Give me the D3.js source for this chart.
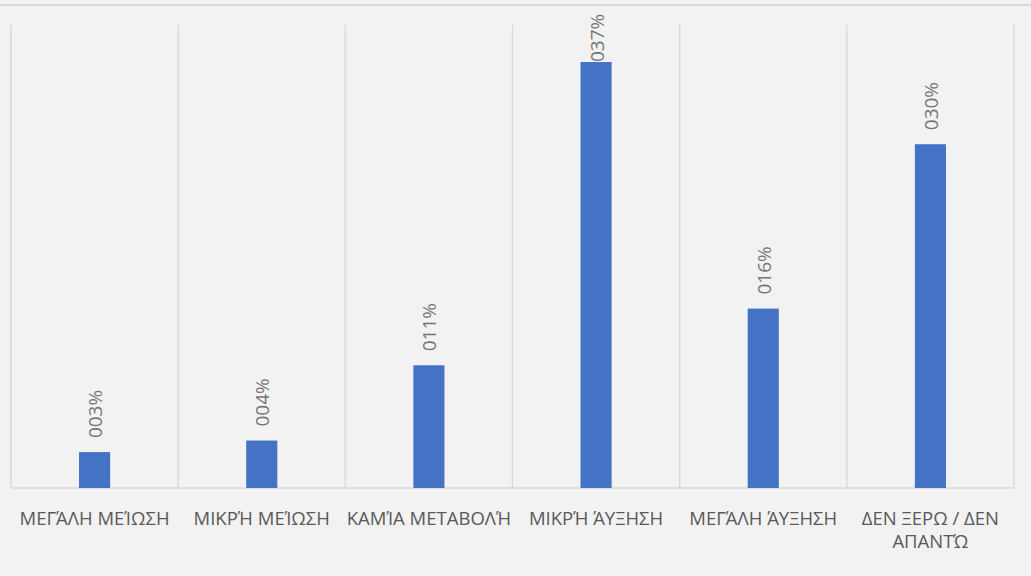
<!DOCTYPE html>
<html>
<head>
    <meta charset="utf-8">
    <title>Bar chart</title>
    <script type="text/javascript" src="https://cdn.jsdelivr.net/npm/d3@7"></script>
    <style type="text/css">
        html, body {
            margin: 0;
            background: #f2f2f2;
        }

        svg {
            display: block;
        }

        .grid {
            stroke: #d9d9d9;
            stroke-width: 1.5;
        }

        .cat {
            font-family: "Open Sans", "Noto Sans", sans-serif;
            font-size: 18.5px;
            fill: #595959;
        }

        .val {
            font-family: "Open Sans", "Noto Sans", sans-serif;
            font-size: 19px;
            fill: #757575;
        }
    </style>
</head>

<body>

<svg></svg>

<script type="text/javascript">
    var categories = ["ΜΕΓΆΛΗ ΜΕΊΩΣΗ", "ΜΙΚΡΉ ΜΕΊΩΣΗ", "ΚΑΜΊΑ ΜΕΤΑΒΟΛΉ", "ΜΙΚΡΉ ΆΥΞΗΣΗ", "ΜΕΓΆΛΗ ΆΥΞΗΣΗ", "ΔΕΝ ΞΕΡΩ / ΔΕΝ ΑΠΑΝΤΏ"];
    var values = [0.031, 0.041, 0.106, 0.368, 0.155, 0.297];
    var yDomain = [0, 0.40];

    var w = 1031, h = 576,
        mLeft = 11, mRight = 1014, mTop = 25, mBottom = 488;

    var svg = d3.select("svg")
        .attr("width", w)
        .attr("height", h);

    var x = d3.scaleBand()
        .domain(categories)
        .range([mLeft, mRight])
        .padding(0);

    var y = d3.scaleLinear()
        .domain(yDomain)
        .range([mBottom, mTop]);

    var barW = x.bandwidth() * 0.186;
    var fmt = d3.format("04.0%");

    // top border
    svg.append("line")
        .attr("class", "grid")
        .attr("x1", 0).attr("x2", w)
        .attr("y1", 5).attr("y2", 5)
        .style("stroke-width", 2);

    // vertical separators
    var edges = categories.map(function(c){return x(c);}).concat([mRight]);
    svg.selectAll("line.sep")
        .data(edges)
        .enter().append("line")
        .attr("class", "grid sep")
        .attr("x1", function(d){return d;})
        .attr("x2", function(d){return d;})
        .attr("y1", mTop)
        .attr("y2", mBottom);

    // baseline
    svg.append("line")
        .attr("class", "grid")
        .attr("x1", mLeft).attr("x2", mRight)
        .attr("y1", y(0)).attr("y2", y(0));

    svg.selectAll("rect.bar")
        .data(values)
        .enter().append("rect")
        .attr("class", "bar")
        .attr("fill", "#4472c4")
        .attr("x", function(d, i){return x(categories[i]) + x.bandwidth() / 2 - barW / 2;})
        .attr("width", barW)
        .attr("y", function(d){return y(d);})
        .attr("height", function(d){return y(0) - y(d);});

    // value labels, rotated
    svg.selectAll("text.val")
        .data(values)
        .enter().append("text")
        .attr("class", "val")
        .attr("transform", function(d, i){
            var cx = x(categories[i]) + x.bandwidth() / 2;
            var start = Math.max(y(d) - 14, 62);
            return "translate(" + (cx + 7.5) + "," + start + ") rotate(-90)";
        })
        .text(function(d){return fmt(d);});

    // category labels with wrapping
    var cats = svg.selectAll("text.cat")
        .data(categories)
        .enter().append("text")
        .attr("class", "cat")
        .attr("text-anchor", "middle")
        .attr("x", function(d){return x(d) + x.bandwidth() / 2;})
        .attr("y", 525);

    cats.each(function(d){
        var el = d3.select(this),
            words = d.split(" "),
            line = [],
            cx = x(d) + x.bandwidth() / 2,
            tspan = el.append("tspan").attr("x", cx).attr("dy", 0);
        words.forEach(function(word){
            line.push(word);
            tspan.text(line.join(" "));
            if (tspan.node().getComputedTextLength() > x.bandwidth() - 2 && line.length > 1) {
                line.pop();
                tspan.text(line.join(" "));
                line = [word];
                tspan = el.append("tspan").attr("x", cx).attr("dy", 23).text(word);
            }
        });
    });
</script>

</body>
</html>
